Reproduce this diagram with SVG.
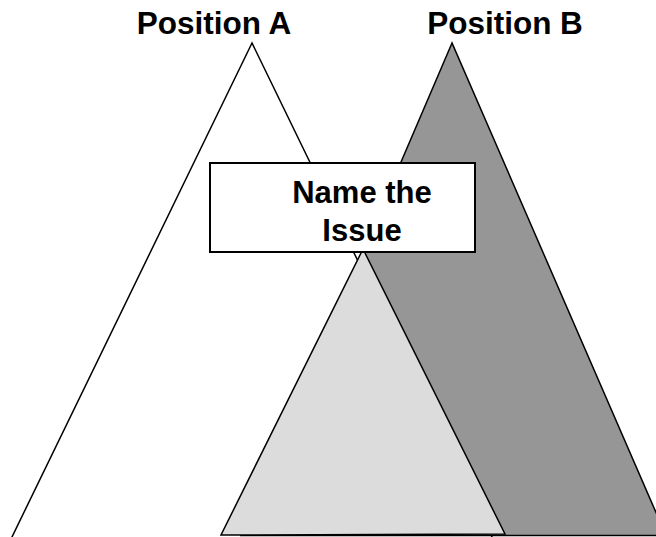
<svg xmlns="http://www.w3.org/2000/svg" width="656" height="537" viewBox="0 0 656 537">
  <style>
    .tri { stroke: #000; stroke-width: 1.5; stroke-linejoin: miter; }
    .lbl { font-family: "Liberation Sans", Arial, sans-serif; font-weight: bold; font-size: 31px; fill: #000; text-anchor: middle; }
    .head { font-size: 31.5px; }
  </style>
  <rect width="656" height="537" fill="#fff"/>
  <g id="position-a">
    <polygon class="tri" fill="#fff" points="252,43 11,539 493,539"/>
    <text class="lbl head" x="214" y="34">Position A</text>
  </g>
  <g id="position-b">
    <polygon class="tri" fill="#969696" points="452,43 241,535.5 666,535.5"/>
    <text class="lbl head" x="505" y="34">Position B</text>
  </g>
  <g id="common-ground">
    <polygon class="tri" fill="#dcdcdc" points="363,249 221,535 505,534"/>
  </g>
  <g id="issue">
    <rect x="210" y="163" width="265" height="89" fill="#fff" stroke="#000" stroke-width="2"/>
    <text class="lbl" x="362" y="203">Name the</text>
    <text class="lbl" x="362" y="241">Issue</text>
  </g>
</svg>
